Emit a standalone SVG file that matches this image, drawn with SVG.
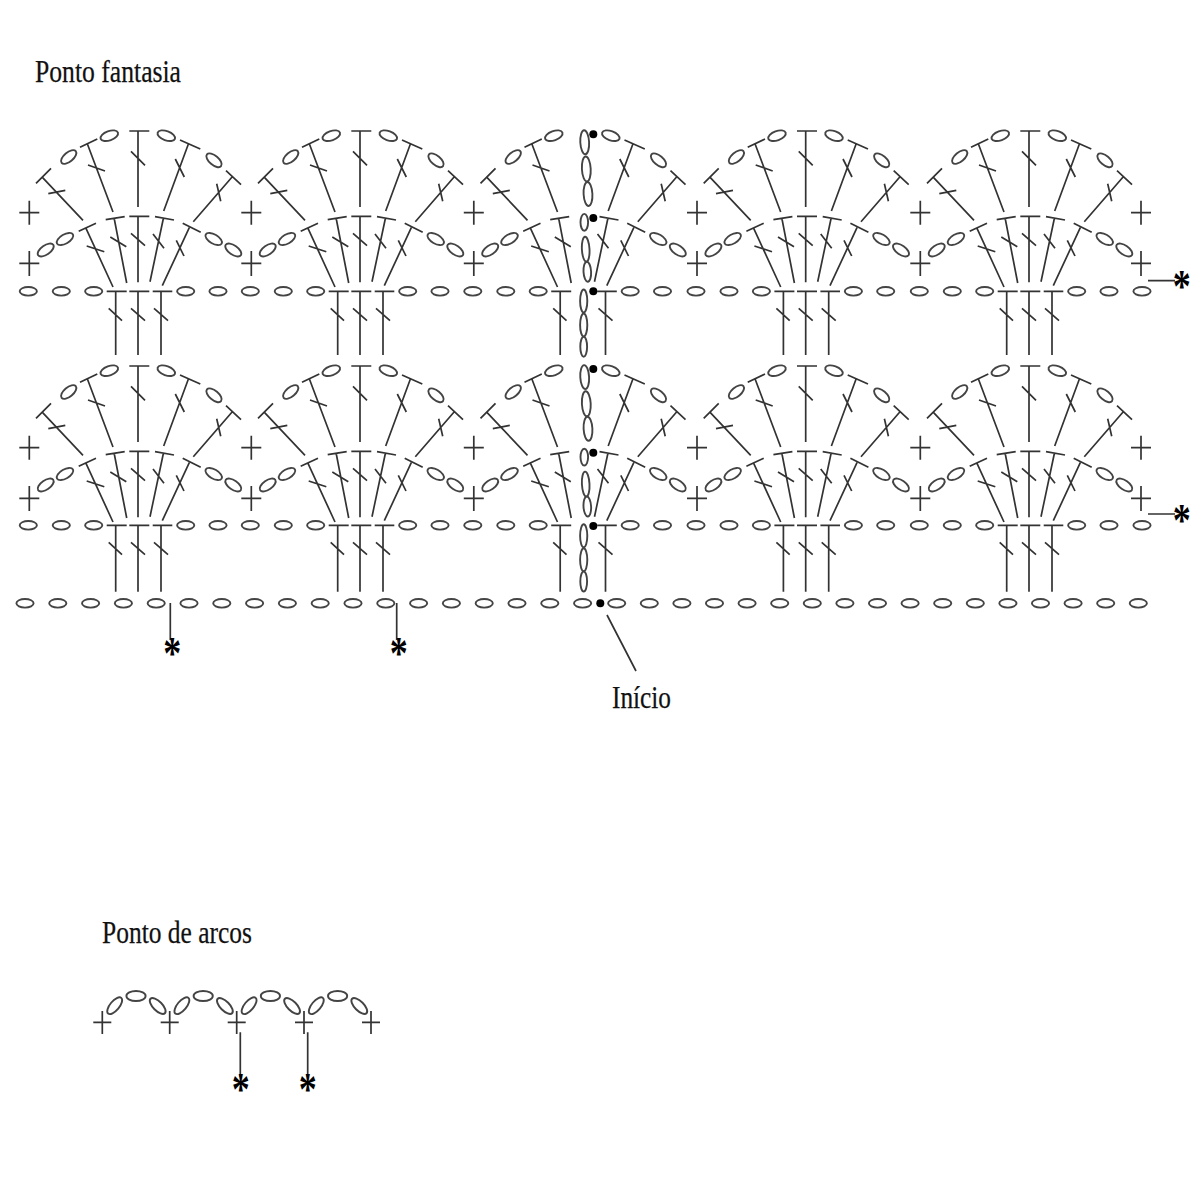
<svg xmlns="http://www.w3.org/2000/svg" width="1200" height="1200" viewBox="0 0 1200 1200">
<style>
.s{fill:none;stroke:#333;stroke-width:1.7;stroke-linecap:butt}
.o{fill:#fff;stroke:#444;stroke-width:1.9}
.d{fill:#000}
.t{font-family:"Liberation Serif","Times New Roman",serif;font-size:32px;fill:#111;stroke:#111;stroke-width:.25}
.a{font-family:"Liberation Serif","Times New Roman",serif;font-size:40px;font-weight:bold;fill:#000;text-anchor:middle}
</style>
<defs>
<ellipse id="e" class="o" rx="8.6" ry="4.3"/>
<ellipse id="e2" class="o" rx="9.2" ry="4.6"/>
<text id="star" class="a" x="0" y="19">*</text>
<g id="arch">
<use href="#e2" transform="translate(109.3 135.7) rotate(-20)"/>
<use href="#e2" transform="translate(166.3 135.7) rotate(20)"/>
<use href="#e2" transform="translate(68.7 157) rotate(-40)"/>
<use href="#e2" transform="translate(214 160.3) rotate(40)"/>
<use href="#e2" transform="translate(65 239) rotate(-30)"/>
<use href="#e2" transform="translate(45.7 250) rotate(-35)"/>
<use href="#e2" transform="translate(213.7 239) rotate(30)"/>
<use href="#e2" transform="translate(233.3 250) rotate(35)"/>
<path class="s" d="M80 147.3L97.3 139M87.3 143.7L113 212M88 165L105 171
M36 183.3L51 168.3M41.7 176.7L83 220.3M48.3 193.7L65.3 190.3
M180 140L200.3 149M188.3 144.3L163.7 211M175.3 159L184.3 177
M226 170.7L241 184.7M232.3 176.7L193.3 221.7M216.7 183.7L220.7 201.3
M105.7 219.7L124.7 216.7M114.3 219L126.7 283M110.3 237L126.3 246.7
M155 216.7L174 220M163.3 218.7L150 281.7M153 234L164 248.3
M78.7 231.3L96 223.3M86 228.3L113 287M86.7 246L104.3 251.7
M182.7 223.3L200.7 232.3M189.3 227.7L162.3 285.7M176.3 240.3L184 256"/>
</g>
<path id="mid" class="s" d="M129.3 131H149.3M138 131V207M131 151.3L145 165.3M129.3 216.3H149.3M138 216.3V282.3M131 233.3L145 245.7"/>
<g id="row">
<use href="#e" x="28.3" y="291.3"/><use href="#e" x="61.3" y="291.3"/><use href="#e" x="93.7" y="291.3"/>
<use href="#e" x="185.7" y="291.3"/><use href="#e" x="218" y="291.3"/>
</g>
<path id="posts" class="s" d="M106.7 291.3H126.7M115.7 291.3V355M108.7 308.3L122 320.7M152.7 291.3H172.3M161 291.3V355M154 308.3L168 320.7"/>
<path id="posts2" class="s" d="M106.7 291.3H126.7M115.7 291.3V357.7M108.7 308.3L122 320.7M152.7 291.3H172.3M161 291.3V357.7M154 308.3L168 320.7"/>
<path id="pmid" class="s" d="M129.3 291.3H149.3M138 291.3V355M131 308.3L145 320.7"/>
<path id="pmid2" class="s" d="M129.3 291.3H149.3M138 291.3V357.7M131 308.3L145 320.7"/>
<path id="plus" class="s" d="M19.3 212.7H39.3M29.3 200.7V224.7M19.3 263.3H39.3M29.3 251V276"/>
<g id="chain">
<ellipse class="o" cx="584.7" cy="142.3" rx="4.4" ry="12" transform="rotate(-3 584.7 142.3)"/>
<ellipse class="o" cx="586.3" cy="169" rx="4.4" ry="12.5" transform="rotate(-3 586.3 169)"/>
<ellipse class="o" cx="588" cy="194" rx="4.4" ry="12" transform="rotate(-3 588 194)"/>
<ellipse class="o" cx="584.3" cy="222.3" rx="3.8" ry="8.4"/>
<ellipse class="o" cx="585.7" cy="249.3" rx="3.8" ry="12.5" transform="rotate(-3 585.7 249.3)"/>
<ellipse class="o" cx="587.3" cy="271.7" rx="3.8" ry="10" transform="rotate(-3 587.3 271.7)"/>
<ellipse class="o" cx="583.7" cy="301" rx="3.6" ry="11.5"/>
<ellipse class="o" cx="583.7" cy="325" rx="3.6" ry="11.5"/>
<ellipse class="o" cx="583.7" cy="346.7" rx="3.4" ry="10"/>
<circle class="d" cx="593.3" cy="134.3" r="4"/>
<circle class="d" cx="593.3" cy="218" r="4"/>
<circle class="d" cx="593.3" cy="291.3" r="4"/>
</g>
<g id="arc">
<ellipse class="o" cx="114.7" cy="1005.7" rx="10.2" ry="4.6" transform="rotate(-50 114.7 1005.7)"/>
<ellipse class="o" cx="136" cy="996" rx="9.6" ry="5"/>
<ellipse class="o" cx="157.7" cy="1006" rx="10.2" ry="4.6" transform="rotate(45 157.7 1006)"/>
</g>
</defs>

<text id="title-fantasia" class="t" x="35" y="82" textLength="146" lengthAdjust="spacingAndGlyphs">Ponto fantasia</text>

<g id="fan-r1-c1"><use href="#arch"/><use href="#mid"/><use href="#row"/><use href="#posts"/><use href="#pmid"/><use href="#plus"/></g>
<g id="fan-r1-c2" transform="translate(222 0)"><use href="#arch"/><use href="#mid"/><use href="#row"/><use href="#posts"/><use href="#pmid"/><use href="#plus"/></g>
<g id="fan-r1-c3" transform="translate(444.5 0)"><use href="#arch"/><use href="#row"/><use href="#posts"/><use href="#plus"/></g>
<g id="fan-r1-c4" transform="translate(667.7 0)"><use href="#arch"/><use href="#mid"/><use href="#row"/><use href="#posts"/><use href="#pmid"/><use href="#plus"/></g>
<g id="fan-r1-c5" transform="translate(891 0)"><use href="#arch"/><use href="#mid"/><use href="#row"/><use href="#posts"/><use href="#pmid"/><use href="#plus"/></g>
<g id="fan-r1-end"><use href="#e" x="1142" y="291.3"/><use href="#plus" x="1111.7"/></g>
<g id="chain-r1"><use href="#chain"/></g>

<g id="fan-r2-c1" transform="translate(0 235)"><use href="#arch"/><use href="#mid"/><use href="#plus"/></g>
<g id="fan-r2-c1b" transform="translate(0 234)"><use href="#row"/><use href="#posts2"/><use href="#pmid2"/></g>
<g id="fan-r2-c2" transform="translate(222 235)"><use href="#arch"/><use href="#mid"/><use href="#plus"/></g>
<g id="fan-r2-c2b" transform="translate(222 234)"><use href="#row"/><use href="#posts2"/><use href="#pmid2"/></g>
<g id="fan-r2-c3" transform="translate(444.5 235)"><use href="#arch"/><use href="#plus"/></g>
<g id="fan-r2-c3b" transform="translate(444.5 234)"><use href="#row"/><use href="#posts2"/></g>
<g id="fan-r2-c4" transform="translate(667.7 235)"><use href="#arch"/><use href="#mid"/><use href="#plus"/></g>
<g id="fan-r2-c4b" transform="translate(667.7 234)"><use href="#row"/><use href="#posts2"/><use href="#pmid2"/></g>
<g id="fan-r2-c5" transform="translate(891 235)"><use href="#arch"/><use href="#mid"/><use href="#plus"/></g>
<g id="fan-r2-c5b" transform="translate(891 234)"><use href="#row"/><use href="#posts2"/><use href="#pmid2"/></g>
<g id="fan-r2-end"><use href="#e" x="1142" y="525.3"/><use href="#plus" x="1111.7" y="235"/></g>
<g id="chain-r2" transform="translate(0 234.8)"><use href="#chain"/></g>

<g id="foundation">
<use href="#e" x="25" y="603.3"/><use href="#e" x="57.8" y="603.3"/><use href="#e" x="90.6" y="603.3"/><use href="#e" x="123.4" y="603.3"/><use href="#e" x="156.2" y="603.3"/><use href="#e" x="189" y="603.3"/><use href="#e" x="221.8" y="603.3"/><use href="#e" x="254.6" y="603.3"/><use href="#e" x="287.4" y="603.3"/><use href="#e" x="320.2" y="603.3"/><use href="#e" x="353" y="603.3"/><use href="#e" x="385.8" y="603.3"/><use href="#e" x="418.6" y="603.3"/><use href="#e" x="451.4" y="603.3"/><use href="#e" x="484.2" y="603.3"/><use href="#e" x="517" y="603.3"/><use href="#e" x="549.8" y="603.3"/><use href="#e" x="582.6" y="603.3"/>
<circle class="d" cx="600.3" cy="603.3" r="4"/>
<use href="#e" x="616.7" y="603.3"/><use href="#e" x="649.3" y="603.3"/><use href="#e" x="681.9" y="603.3"/><use href="#e" x="714.5" y="603.3"/><use href="#e" x="747.1" y="603.3"/><use href="#e" x="779.7" y="603.3"/><use href="#e" x="812.3" y="603.3"/><use href="#e" x="844.9" y="603.3"/><use href="#e" x="877.5" y="603.3"/><use href="#e" x="910.1" y="603.3"/><use href="#e" x="942.7" y="603.3"/><use href="#e" x="975.3" y="603.3"/><use href="#e" x="1007.9" y="603.3"/><use href="#e" x="1040.5" y="603.3"/><use href="#e" x="1073.1" y="603.3"/><use href="#e" x="1105.7" y="603.3"/><use href="#e" x="1138.3" y="603.3"/>
</g>

<g id="connectors">
<path class="s" d="M170.3 603V640M396.7 603V640M1148 280.7H1175M1148 514H1175M240.3 1032.3V1077M307.7 1032.3V1077M607 615L636 671"/>
</g>

<g id="stars">
<use href="#star" transform="translate(172.3 646.7) scale(.9 1.15)"/>
<use href="#star" transform="translate(398.7 646.7) scale(.9 1.15)"/>
<use href="#star" transform="translate(1181.7 280) scale(.9 1.15)"/>
<use href="#star" transform="translate(1181.7 514) scale(.9 1.15)"/>
<use href="#star" transform="translate(240.7 1083) scale(.9 1.15)"/>
<use href="#star" transform="translate(307.7 1083) scale(.9 1.15)"/>
</g>

<text id="label-inicio" class="t" x="612" y="708" textLength="59" lengthAdjust="spacingAndGlyphs">Início</text>

<text id="title-arcos" class="t" x="102" y="943" textLength="150" lengthAdjust="spacingAndGlyphs">Ponto de arcos</text>

<g id="arcs">
<g id="arc-1"><use href="#arc"/></g>
<g id="arc-2" transform="translate(67.2 0)"><use href="#arc"/></g>
<g id="arc-3" transform="translate(134.4 0)"><use href="#arc"/></g>
<g id="arc-4" transform="translate(201.6 0)"><use href="#arc"/></g>
<path id="arc-stitches" class="s" d="M93.3 1022.3H111.3M102.3 1011V1034M160.7 1022.3H178.7M169.7 1011V1034M227.7 1022.3H245.7M236.7 1011V1034M295 1022.3H313M304 1011V1034M362 1022.3H380M371 1011V1034"/>
</g>
</svg>
